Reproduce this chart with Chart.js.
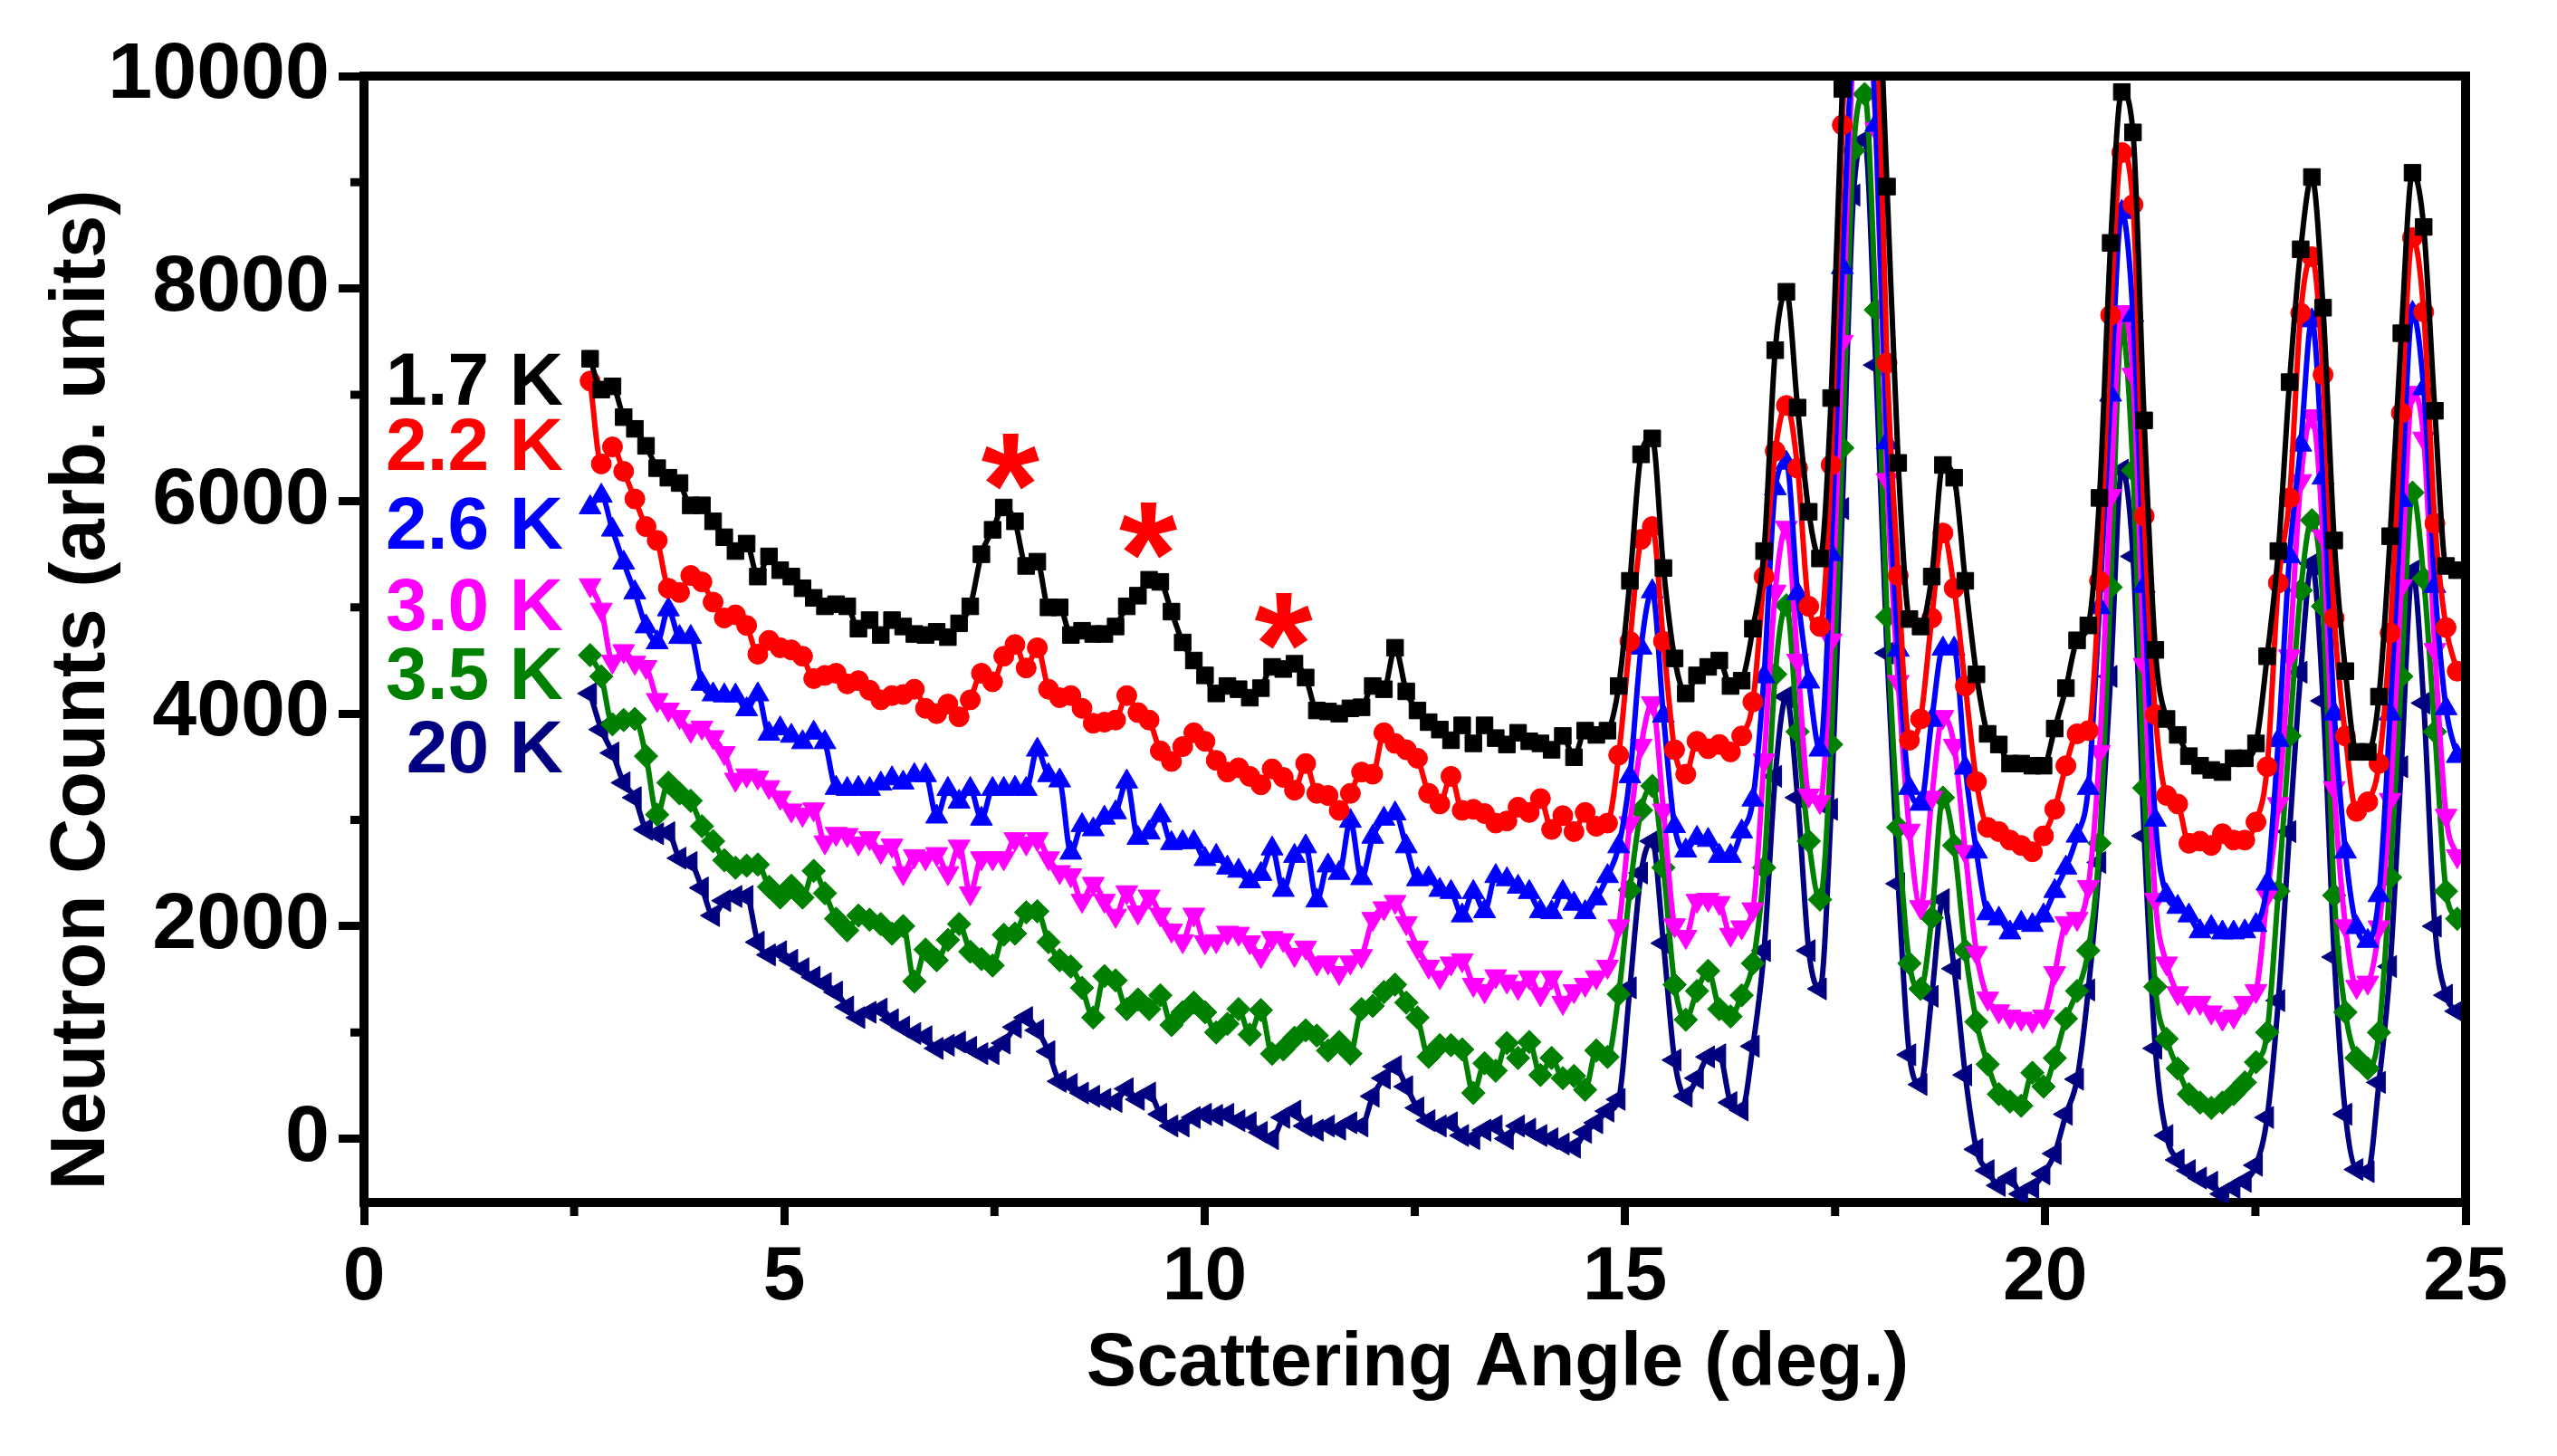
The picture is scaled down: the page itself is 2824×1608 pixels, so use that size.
<!DOCTYPE html>
<html lang="en">
<head>
<meta charset="UTF-8">
<title>Neutron Counts vs Scattering Angle</title>
<script src="https://cdn.jsdelivr.net/npm/chart.js"></script>
<style>
  html, body { margin: 0; padding: 0; background: #fff; }
  canvas { display: block; }
</style>
</head>
<body>
<canvas id="neutronChart" width="2824" height="1608"></canvas>
<script>
// scattering angle of every measured point (deg.)
const angle = [
  2.690, 2.823, 2.956, 3.089, 3.222, 3.355, 3.488, 3.621, 3.754, 3.887,
  4.020, 4.153, 4.286, 4.419, 4.552, 4.685, 4.818, 4.951, 5.084, 5.217,
  5.350, 5.483, 5.616, 5.749, 5.882, 6.015, 6.148, 6.281, 6.414, 6.547,
  6.680, 6.813, 6.946, 7.079, 7.212, 7.345, 7.478, 7.611, 7.744, 7.877,
  8.010, 8.143, 8.276, 8.409, 8.542, 8.675, 8.808, 8.941, 9.074, 9.207,
  9.340, 9.473, 9.606, 9.739, 9.872, 10.005, 10.138, 10.271, 10.404, 10.537,
  10.670, 10.803, 10.936, 11.069, 11.202, 11.335, 11.468, 11.601, 11.734, 11.867,
  12.000, 12.133, 12.266, 12.399, 12.532, 12.665, 12.798, 12.931, 13.064, 13.197,
  13.330, 13.463, 13.596, 13.729, 13.862, 13.995, 14.128, 14.261, 14.394, 14.527,
  14.660, 14.793, 14.926, 15.059, 15.192, 15.325, 15.458, 15.591, 15.724, 15.857,
  15.990, 16.123, 16.256, 16.389, 16.522, 16.655, 16.788, 16.921, 17.054, 17.187,
  17.320, 17.453, 17.586, 17.719, 17.852, 17.985, 18.118, 18.251, 18.384, 18.517,
  18.650, 18.783, 18.916, 19.049, 19.182, 19.315, 19.448, 19.581, 19.714, 19.847,
  19.980, 20.113, 20.246, 20.379, 20.512, 20.645, 20.778, 20.911, 21.044, 21.177,
  21.310, 21.443, 21.576, 21.709, 21.842, 21.975, 22.108, 22.241, 22.374, 22.507,
  22.640, 22.773, 22.906, 23.039, 23.172, 23.305, 23.438, 23.571, 23.704, 23.837,
  23.970, 24.103, 24.236, 24.369, 24.502, 24.635, 24.768, 24.901
];

// neutron counts, one array per temperature
const counts1p7K = [
  7340, 7050, 7080, 6790, 6680, 6520, 6310, 6220, 6170, 5960,
  5960, 5810, 5660, 5530, 5600, 5290, 5480, 5350, 5290, 5180,
  5090, 5010, 5030, 5010, 4800, 4880, 4740, 4880, 4820, 4750,
  4740, 4770, 4720, 4850, 5010, 5500, 5730, 5940, 5810, 5390,
  5430, 5000, 5000, 4740, 4780, 4750, 4750, 4820, 5010, 5110,
  5260, 5240, 4960, 4670, 4500, 4360, 4190, 4260, 4230, 4150,
  4240, 4440, 4420, 4470, 4340, 4030, 4020, 4000, 4050, 4060,
  4260, 4230, 4620, 4210, 4030, 3920, 3850, 3750, 3890, 3720,
  3890, 3770, 3710, 3820, 3740, 3720, 3660, 3790, 3590, 3840,
  3800, 3840, 4260, 5250, 6440, 6590, 5370, 4520, 4190, 4360,
  4440, 4500, 4260, 4310, 4800, 5530, 7420, 7970, 6880, 5900,
  5460, 6970, 9880, 11800, 12500, 11500, 8960, 6360, 4890, 4820,
  5290, 6340, 6220, 5250, 4370, 3810, 3710, 3530, 3530, 3510,
  3510, 3860, 4240, 4690, 4830, 6030, 8430, 9850, 9470, 6760,
  4600, 3950, 3800, 3600, 3510, 3470, 3450, 3580, 3580, 3720,
  4540, 5530, 7120, 8370, 9050, 7820, 5630, 4400, 3640, 3640,
  4160, 5670, 7580, 9090, 8580, 6850, 5390, 5350
];
const counts2p2K = [
  7130, 6350, 6510, 6280, 6020, 5760, 5630, 5180, 5140, 5300,
  5240, 5050, 4900, 4930, 4830, 4560, 4690, 4620, 4600, 4540,
  4330, 4360, 4380, 4280, 4310, 4220, 4130, 4170, 4180, 4230,
  4050, 4000, 4090, 3970, 4130, 4380, 4300, 4540, 4650, 4430,
  4620, 4230, 4150, 4170, 4050, 3910, 3920, 3940, 4170, 4010,
  3940, 3650, 3550, 3690, 3820, 3740, 3560, 3450, 3490, 3410,
  3330, 3480, 3400, 3280, 3530, 3250, 3230, 3090, 3250, 3450,
  3430, 3820, 3720, 3660, 3580, 3250, 3150, 3410, 3090, 3100,
  3060, 2970, 2990, 3120, 3070, 3200, 2910, 3040, 2890, 3070,
  2940, 2970, 3610, 4680, 5640, 5760, 4680, 3660, 3430, 3740,
  3670, 3710, 3640, 3790, 4110, 5290, 6470, 6900, 6310, 5010,
  4820, 6340, 9540, 11500, 12500, 11000, 7300, 5300, 3750, 3950,
  4900, 5700, 5180, 4260, 3360, 2930, 2890, 2810, 2760, 2700,
  2850, 3100, 3510, 3810, 3840, 5250, 7750, 9280, 8790, 5860,
  3990, 3230, 3150, 2780, 2800, 2760, 2870, 2810, 2810, 2980,
  3500, 5230, 6030, 7770, 8300, 7190, 4900, 3790, 3080, 3170,
  3530, 4760, 6830, 8480, 7780, 5790, 4810, 4400
];
const counts2p6K = [
  5940, 6050, 5730, 5420, 5140, 4820, 4670, 4980, 4720, 4720,
  4280, 4180, 4170, 4170, 4040, 4180, 3810, 3860, 3790, 3730,
  3820, 3730, 3300, 3290, 3300, 3290, 3340, 3390, 3350, 3420,
  3420, 3030, 3290, 3170, 3290, 3010, 3290, 3290, 3300, 3290,
  3660, 3420, 3370, 2690, 2950, 2910, 3020, 3070, 3360, 2830,
  2880, 3040, 2780, 2790, 2790, 2630, 2660, 2550, 2520, 2420,
  2490, 2730, 2340, 2660, 2750, 2240, 2570, 2500, 2990, 2450,
  2840, 3010, 3060, 2750, 2440, 2450, 2340, 2320, 2100, 2320,
  2140, 2470, 2440, 2370, 2320, 2140, 2130, 2320, 2210, 2130,
  2260, 2470, 2750, 3410, 4620, 5150, 3980, 2940, 2710, 2830,
  2810, 2660, 2660, 2890, 3190, 4350, 6120, 6360, 5130, 4300,
  3660, 5500, 8200, 10500, 11300, 9540, 6550, 4600, 3300, 3150,
  3940, 4610, 4610, 3490, 2700, 2120, 2070, 1940, 2030, 2010,
  2100, 2330, 2550, 2850, 3300, 5000, 7000, 8720, 7750, 5200,
  3000, 2290, 2180, 2100, 1950, 1990, 1940, 1940, 1950, 2010,
  2400, 3750, 5480, 6530, 7700, 6220, 4000, 2700, 1990, 1860,
  2290, 4000, 6010, 7770, 7060, 5200, 4050, 3600
];
const counts3p0K = [
  5210, 4980, 4490, 4590, 4480, 4440, 4130, 4040, 3970, 3840,
  3870, 3780, 3630, 3380, 3420, 3400, 3310, 3210, 3090, 3050,
  3100, 2790, 2870, 2860, 2780, 2830, 2700, 2760, 2500, 2660,
  2640, 2680, 2500, 2750, 2310, 2640, 2640, 2640, 2820, 2780,
  2820, 2640, 2510, 2480, 2240, 2400, 2240, 2100, 2320, 2130,
  2280, 2110, 1960, 1860, 2110, 1850, 1860, 1940, 1930, 1850,
  1720, 1890, 1870, 1730, 1800, 1650, 1660, 1560, 1660, 1720,
  2070, 2170, 2230, 2030, 1800, 1620, 1520, 1650, 1680, 1450,
  1390, 1530, 1480, 1420, 1520, 1360, 1520, 1280, 1390, 1450,
  1520, 1620, 2000, 2970, 3700, 4100, 3090, 2010, 1900, 2240,
  2250, 2220, 1920, 1990, 2160, 3560, 5150, 5750, 4500, 3230,
  3170, 4690, 7500, 10300, 11000, 9500, 6200, 4300, 2900, 2180,
  3210, 3970, 3700, 2700, 1750, 1320, 1200, 1150, 1130, 1110,
  1150, 1560, 2030, 2070, 2370, 3640, 6050, 7780, 7190, 4460,
  2250, 1650, 1370, 1280, 1280, 1190, 1130, 1150, 1280, 1390,
  2290, 3150, 4540, 6190, 6800, 5670, 3300, 2000, 1430, 1470,
  1990, 3190, 5200, 7020, 6590, 4600, 3040, 2660
];
const counts3p5K = [
  4550, 4350, 3900, 3940, 3950, 3600, 3050, 3350, 3250, 3180,
  2940, 2800, 2620, 2550, 2570, 2580, 2370, 2270, 2380, 2270,
  2520, 2310, 2070, 1960, 2100, 2060, 2020, 1930, 2000, 1480,
  1780, 1680, 1870, 2020, 1760, 1690, 1630, 1920, 1930, 2130,
  2140, 1850, 1680, 1620, 1420, 1140, 1530, 1490, 1220, 1310,
  1220, 1350, 1070, 1190, 1280, 1190, 1000, 1080, 1220, 980,
  1210, 800, 840, 950, 1020, 970, 830, 910, 800, 1220,
  1250, 1380, 1450, 1280, 1140, 770, 880, 880, 840, 430,
  710, 640, 900, 760, 910, 600, 760, 570, 590, 460,
  830, 770, 1360, 2340, 3090, 3320, 2550, 1450, 1120, 1390,
  1580, 1220, 1150, 1350, 1650, 2550, 4370, 5020, 3830, 2800,
  2250, 3710, 6500, 9300, 9830, 7800, 4910, 2930, 1650, 1410,
  2080, 3210, 2760, 1770, 1100, 700, 420, 350, 310, 620,
  490, 760, 1130, 1390, 1770, 2780, 5190, 7630, 6290, 3300,
  1430, 940, 660, 420, 340, 290, 340, 420, 530, 720,
  1000, 2330, 3790, 5160, 5820, 5010, 2290, 1190, 760, 660,
  1000, 2460, 4350, 6080, 5270, 3830, 2330, 2070
];
const counts20K = [
  4190, 3850, 3630, 3350, 3210, 2910, 2870, 2880, 2640, 2600,
  2360, 2100, 2240, 2280, 2280, 1850, 1730, 1760, 1680, 1600,
  1520, 1460, 1380, 1240, 1140, 1190, 1220, 1120, 1050, 990,
  960, 850, 880, 910, 860, 800, 800, 900, 1050, 1140,
  1020, 820, 540, 510, 430, 400, 370, 350, 470, 370,
  430, 230, 120, 120, 200, 230, 220, 230, 170, 150,
  60, 0, 200, 260, 120, 80, 120, 90, 150, 120,
  400, 570, 680, 490, 290, 170, 120, 150, 30, 0,
  80, 120, 0, 120, 90, 30, 0, -50, -80, 60,
  150, 260, 370, 1420, 2500, 2800, 1840, 740, 400, 570,
  770, 790, 340, 270, 870, 1770, 3410, 4160, 3210, 1770,
  1410, 3100, 5930, 8880, 9400, 7280, 4570, 2400, 790, 510,
  1340, 2250, 1600, 600, -100, -300, -440, -370, -520, -460,
  -330, -140, 230, 560, 1400, 2600, 4350, 6290, 5480, 2850,
  850, 30, -200, -300, -370, -410, -520, -460, -400, -250,
  200, 1300, 2890, 4390, 5410, 4120, 1710, 230, -290, -310,
  530, 1620, 3500, 5340, 4100, 2000, 1350, 1200
];

const seriesLabels = ['1.7 K', '2.2 K', '2.6 K', '3.0 K', '3.5 K', '20 K'];
const xTicks = [0, 5, 10, 15, 20, 25];
const yTicks = [0, 2000, 4000, 6000, 8000, 10000];
const xMinorTicks = [2.5, 7.5, 12.5, 17.5, 22.5];
const yMinorTicks = [1000, 3000, 5000, 7000, 9000];

// red asterisks over the extra peaks
const starAngles = [7.69, 9.33, 10.94];
const starCounts = [6370, 5720, 4870];

const FONT = '"Liberation Sans", Arial, sans-serif';
const NARROW = '"Liberation Sans Narrow", "Arial Narrow", "Liberation Sans", sans-serif';
const colors = ['#000000', '#ff0000', '#0000ff', '#ff00ff', '#008000', '#000080'];

// where the temperature labels sit (right edge, baseline), in data units
const labelAngle = 2.37;
const labelBaselines = [6910, 6296, 5554, 4787, 4139, 3449];

function series(i, values, style, radius, rotation) {
  return {
    label: seriesLabels[i],
    data: angle.map((a, k) => ({ x: a, y: values[k] })),
    borderColor: colors[i],
    backgroundColor: colors[i],
    borderWidth: 6,
    pointStyle: style,
    pointRadius: radius,
    pointRotation: rotation || 0,
    pointBorderWidth: 1,
    pointBorderColor: colors[i],
    pointBackgroundColor: colors[i],
    cubicInterpolationMode: 'monotone',
    fill: false
  };
}

const decorations = {
  id: 'decorations',
  afterDraw(chart) {
    const { ctx, chartArea: area, scales: { x, y } } = chart;
    ctx.save();

    // close the box on top and right
    ctx.strokeStyle = '#000';
    ctx.lineWidth = 10;
    ctx.lineJoin = 'miter';
    ctx.beginPath();
    ctx.moveTo(area.left - 5, area.top);
    ctx.lineTo(area.right, area.top);
    ctx.lineTo(area.right, area.bottom + 5);
    ctx.stroke();

    // minor ticks
    ctx.lineWidth = 9;
    ctx.beginPath();
    xMinorTicks.forEach(v => {
      const px = x.getPixelForValue(v);
      ctx.moveTo(px, area.bottom);
      ctx.lineTo(px, area.bottom + 15);
    });
    yMinorTicks.forEach(v => {
      const py = y.getPixelForValue(v);
      ctx.moveTo(area.left, py);
      ctx.lineTo(area.left - 15, py);
    });
    ctx.stroke();

    // temperature labels
    ctx.font = 'bold 82px ' + FONT;
    ctx.textAlign = 'right';
    ctx.textBaseline = 'alphabetic';
    seriesLabels.forEach((t, i) => {
      ctx.fillStyle = colors[i];
      ctx.fillText(t, x.getPixelForValue(labelAngle), y.getPixelForValue(labelBaselines[i]));
    });

    // asterisks
    ctx.font = 'bold 165px ' + FONT;
    ctx.textAlign = 'center';
    ctx.fillStyle = '#ff0000';
    const m = ctx.measureText('*');
    const shift = (m.actualBoundingBoxAscent - m.actualBoundingBoxDescent) / 2;
    starAngles.forEach((a, i) => {
      ctx.fillText('*', x.getPixelForValue(a), y.getPixelForValue(starCounts[i]) + shift);
    });

    // axis titles
    ctx.fillStyle = '#000';
    ctx.font = 'bold 83px ' + FONT;
    ctx.textAlign = 'center';
    ctx.fillText('Scattering Angle (deg.)', 1654, 1530);
    ctx.translate(115, 762);
    ctx.rotate(-Math.PI / 2);
    ctx.font = 'bold 85px ' + FONT;
    ctx.fillText('Neutron Counts (arb. units)', 0, 0);

    ctx.restore();
  }
};

new Chart(document.getElementById('neutronChart'), {
  type: 'line',
  data: {
    datasets: [
      series(0, counts1p7K, 'rect', 13),
      series(1, counts2p2K, 'circle', 11),
      series(2, counts2p6K, 'triangle', 14),
      series(3, counts3p0K, 'triangle', 14, 180),
      series(4, counts3p5K, 'rectRot', 13),
      series(5, counts20K, 'triangle', 14, 270)
    ]
  },
  options: {
    responsive: false,
    animation: false,
    events: [],
    layout: { padding: { top: 84, right: 101, bottom: 0, left: 0 } },
    plugins: {
      legend: { display: false },
      tooltip: { enabled: false }
    },
    scales: {
      x: {
        type: 'linear',
        min: 0,
        max: 25,
        afterBuildTicks: s => { s.ticks = xTicks.map(v => ({ value: v })); },
        afterFit: s => { s.height = 280; },
        border: { display: true, color: '#000', width: 10 },
        grid: { drawOnChartArea: false, drawTicks: true, tickLength: 25, tickWidth: 9, tickColor: '#000' },
        ticks: { padding: 8, color: '#000', font: { family: NARROW, size: 84, weight: 'bold' },
                 maxRotation: 0, autoSkip: false, callback: v => String(v) }
      },
      y: {
        type: 'linear',
        min: -600,
        max: 10000,
        afterBuildTicks: s => { s.ticks = yTicks.map(v => ({ value: v })); },
        afterFit: s => { s.width = 402; },
        border: { display: true, color: '#000', width: 10 },
        grid: { drawOnChartArea: false, drawTicks: true, tickLength: 28, tickWidth: 9, tickColor: '#000' },
        ticks: { padding: 10, color: '#000', font: { family: FONT, size: 88, weight: 'bold' },
                 autoSkip: false, callback: v => String(v) }
      }
    }
  },
  plugins: [decorations]
});
</script>
</body>
</html>
